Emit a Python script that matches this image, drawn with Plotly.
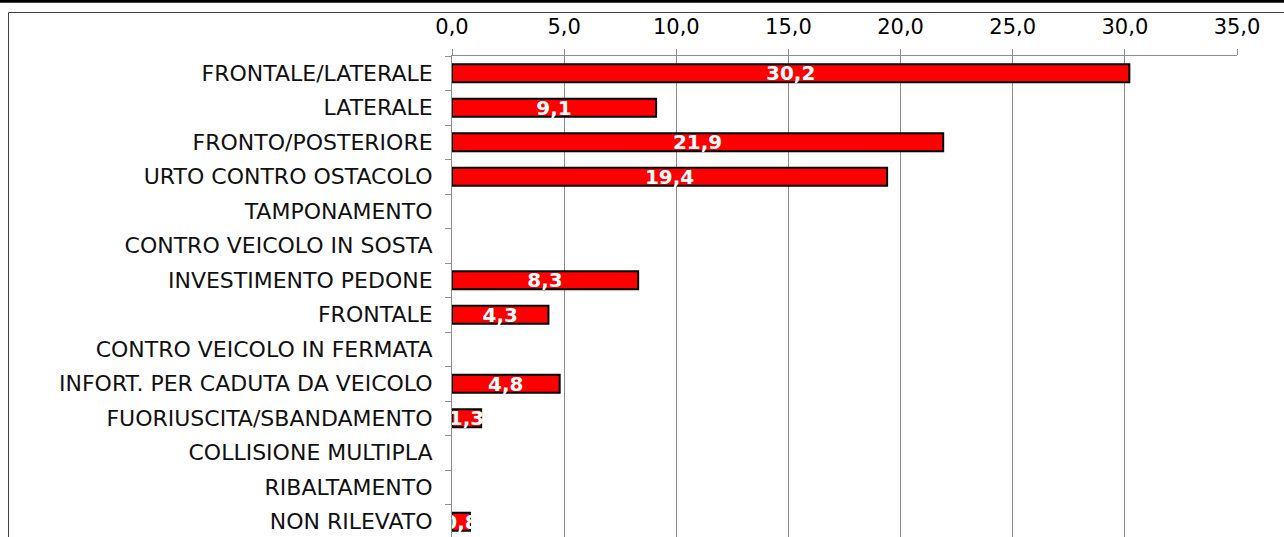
import plotly.graph_objects as go

categories = [
    "FRONTALE/LATERALE",
    "LATERALE",
    "FRONTO/POSTERIORE",
    "URTO CONTRO OSTACOLO",
    "TAMPONAMENTO",
    "CONTRO VEICOLO IN SOSTA",
    "INVESTIMENTO PEDONE",
    "FRONTALE",
    "CONTRO VEICOLO IN FERMATA",
    "INFORT. PER CADUTA DA VEICOLO",
    "FUORIUSCITA/SBANDAMENTO",
    "COLLISIONE MULTIPLA",
    "RIBALTAMENTO",
    "NON RILEVATO",
]
values = [30.2, 9.1, 21.9, 19.4, 0.0, 0.0, 8.3, 4.3, 0.0, 4.8, 1.3, 0.0, 0.0, 0.8]
x_ticks = [0, 5, 10, 15, 20, 25, 30, 35]

W, H = 1284, 537
ML, MR, MT, MB = 452, 47, 56, 0
pw, ph = W - ML - MR, H - MT - MB
step = 34.5  # pixels per category

def px(xp):
    return (xp - ML) / pw

def py(yp):
    return (H - MB - yp) / ph

labels = [f"{v:.1f}".replace(".", ",") if v > 0 else "" for v in values]
line_widths = [2 if v > 0 else 0 for v in values]

fig = go.Figure(
    go.Bar(
        y=categories,
        x=values,
        orientation="h",
        width=0.52,
        marker=dict(color="#FF0000", line=dict(color="#000000", width=line_widths)),
        text=labels,
        textposition="inside",
        insidetextanchor="middle",
        constraintext="none",
        textangle=0,
        textfont=dict(family="DejaVu Sans", size=20, color="white", weight="bold"),
        cliponaxis=True,
    )
)

y_bottom = -0.5 + ph / step
fig.update_layout(
    width=W,
    height=H,
    margin=dict(l=ML, r=MR, t=MT, b=MB, pad=0),
    paper_bgcolor="white",
    plot_bgcolor="white",
    separators=",.",
    showlegend=False,
    font=dict(family="DejaVu Sans", color="#000000"),
    xaxis=dict(
        side="top",
        range=[0, 35],
        tickvals=x_ticks,
        tickformat=".1f",
        showgrid=True,
        gridcolor="#8c8c8c",
        gridwidth=1,
        showline=True,
        linecolor="#8c8c8c",
        linewidth=1,
        ticks="outside",
        ticklen=6,
        tickcolor="#8c8c8c",
        tickfont=dict(family="DejaVu Sans", size=21, color="#000000"),
        ticklabelstandoff=7,
        zeroline=False,
        fixedrange=True,
    ),
    yaxis=dict(
        type="category",
        categoryorder="array",
        categoryarray=categories,
        range=[y_bottom, -0.5],
        autorange=False,
        showline=True,
        linecolor="#8c8c8c",
        linewidth=1,
        ticks="outside",
        tickson="boundaries",
        ticklen=6,
        tickcolor="#8c8c8c",
        showgrid=False,
        tickfont=dict(family="DejaVu Sans", size=22, color="#111111"),
        ticklabelstandoff=14,
        zeroline=False,
        fixedrange=True,
    ),
)

# outer chart frame (left and top edges visible)
fig.add_shape(type="line", xref="paper", yref="paper",
              x0=px(8.5), x1=px(8.5), y0=py(12.5), y1=py(560),
              line=dict(color="#404040", width=1))
fig.add_shape(type="line", xref="paper", yref="paper",
              x0=px(8.5), x1=px(1300), y0=py(12.5), y1=py(12.5),
              line=dict(color="#404040", width=1))
# thick black rule at the very top
fig.add_shape(type="line", xref="paper", yref="paper",
              x0=px(-5), x1=px(1300), y0=py(1.3), y1=py(1.3),
              line=dict(color="#000000", width=3))

fig.write_html(
    "out.html",
    config={"displayModeBar": False},
    post_script="document.body.style.margin='0';document.body.style.overflow='hidden';",
)
